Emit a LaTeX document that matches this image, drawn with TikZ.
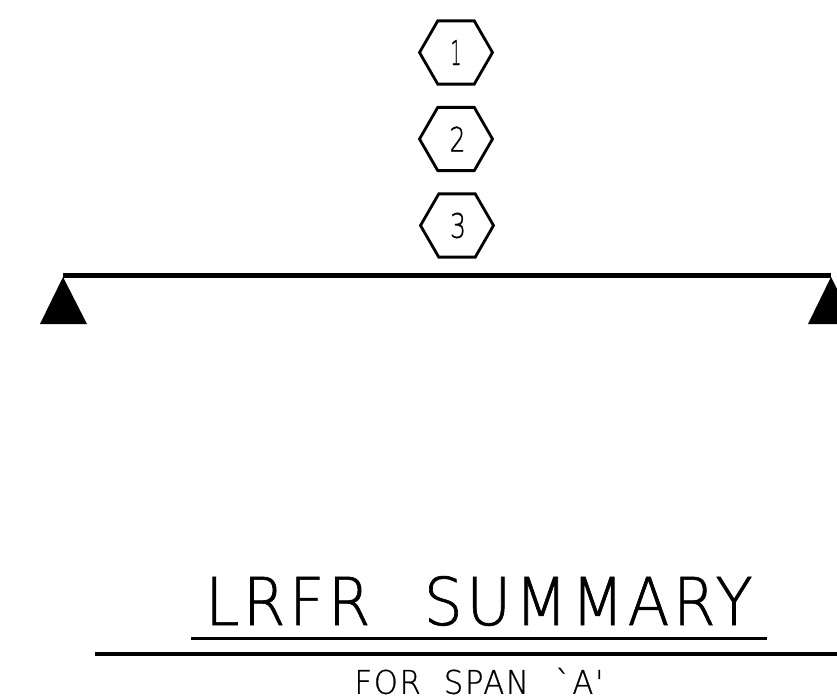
\documentclass[tikz,border=0pt]{standalone}
\usepackage{graphicx}
\usepackage{fontspec}
\setmainfont{DejaVu Sans ExtraLight}[FakeStretch=0.86,LetterSpace=5]
\newfontfamily\titlefont{DejaVu Sans ExtraLight}[FakeStretch=0.84,LetterSpace=5,FakeBold=0.9]
\newfontfamily\subfont{DejaVu Sans ExtraLight}[FakeStretch=0.86,LetterSpace=5,FakeBold=0.7]
\newfontfamily\digitfont{DejaVu Sans ExtraLight}[FakeBold=1]
\usetikzlibrary{shapes.geometric}
\tikzset{
  hexmark/.style={regular polygon,regular polygon sides=6,draw,line width=2.8pt,minimum size=73pt,inner sep=0pt,outer sep=0pt},
  caption/.style={inner sep=0pt,outer sep=0pt,anchor=center},
  rule/.style={line width=#1,line cap=butt},
  support/.style={fill=black,draw=none}
}
\begin{document}
\begin{tikzpicture}[x=1pt,y=-1pt]
\useasboundingbox (0,0) rectangle (837,698);
\fill[white] (0,0) rectangle (837,698);
\node[hexmark] (h1) at (456,52.5) {\resizebox{11pt}{25pt}{\digitfont 1}};
\node[hexmark] (h2) at (456,139) {\kern3pt\resizebox{16pt}{25pt}{\digitfont 2}};
\node[hexmark] (h3) at (457,225.5) {\kern2pt\resizebox{16pt}{25pt}{\digitfont 3}};
\coordinate (bl) at (63,275.5);
\coordinate (br) at (831,275.5);
\draw[rule=4.2pt] (bl) -- (br);
\fill[support] (63,277) -- (87,324) -- (40,324) -- cycle;
\fill[support] (831,277) -- (837,289) -- (837,324) -- (808,324) -- cycle;
\node[caption] (title) at (479,601) {\resizebox{547pt}{49pt}{\titlefont LRFR\ \ \kern0.1em SUMMARY}};
\coordinate (ua) at (191,638.5);
\coordinate (ub) at (767,638.5);
\draw[rule=3.2pt] (ua) -- (ub);
\coordinate (la) at (95,654);
\coordinate (lb) at (837,654);
\draw[rule=3.8pt] (la) -- (lb);
\node[caption] (sub) at (479,681) {\resizebox{249pt}{26pt}{\subfont FOR\ \ SPAN\ \ \kern0.1em `A'}};
\end{tikzpicture}
\end{document}
